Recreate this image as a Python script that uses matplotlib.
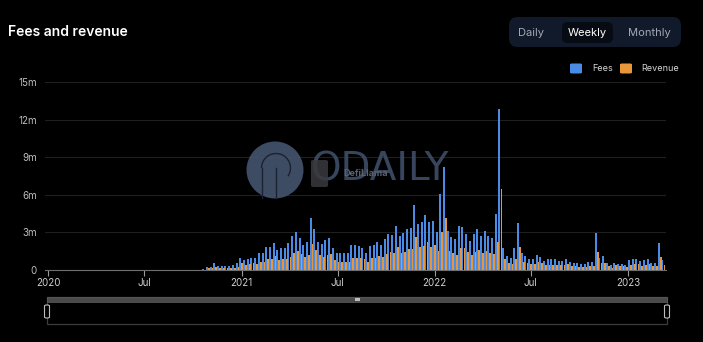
import numpy as np
import pandas as pd
import matplotlib
matplotlib.use("Agg")
import matplotlib.pyplot as plt
import matplotlib.dates as mdates
from matplotlib.patches import FancyBboxPatch, Ellipse, Rectangle, Arc
from matplotlib.lines import Line2D

plt.rcParams['font.family'] = ['Inter', 'DejaVu Sans']

# ---------------- data (millions USD, weekly) ----------------
start_date = "2020-10-22"
fees = [0.05,
        0.27, 0.27, 0.53, 0.35, 0.32, 0.32, 0.32, 0.38, 0.53, 0.93,
        0.80, 0.88, 0.93, 0.93, 1.33, 1.33, 1.80, 1.80, 2.13, 1.60,
        1.73, 1.73, 2.13, 2.75, 3.04, 2.53, 2.00, 2.27, 4.13, 3.25,
        2.27, 2.05, 2.40, 2.53, 1.73, 1.33, 1.33, 1.33, 1.33, 2.00,
        2.00, 1.92, 1.73, 1.33, 1.92, 2.00, 2.27, 2.00, 2.45, 2.88,
        2.80, 3.55, 2.72, 2.93, 3.25, 3.33, 5.20, 3.65, 3.80, 4.40,
        3.80, 3.95, 3.00,
        6.10, 8.27, 3.12, 2.67, 2.45, 3.55, 3.44, 2.85, 2.35, 2.90,
        3.25, 2.75, 3.12, 2.72, 2.53, 4.48, 12.88, 1.73, 1.15, 0.93,
        1.73, 3.73, 1.33, 1.12, 0.90, 0.90, 1.20, 1.07, 0.72, 0.85,
        0.85, 0.85, 0.75, 0.75, 0.90, 0.64, 0.59, 0.53, 0.45, 0.50,
        0.61, 0.61, 2.93, 0.99, 1.09, 0.53, 0.37, 0.59, 0.45, 0.45,
        0.40, 0.77, 0.88, 0.88, 0.69, 0.80, 0.90, 0.53, 0.53, 2.13,
        0.80]
revenue = [0.02,
           0.13, 0.13, 0.27, 0.18, 0.15, 0.15, 0.15, 0.18, 0.27, 0.53,
           0.40, 0.48, 0.53, 0.48, 0.67, 0.67, 0.90, 0.90, 1.10, 0.80,
           0.85, 0.85, 1.07, 1.33, 1.55, 1.28, 1.00, 1.17, 2.08, 1.60,
           1.17, 1.07, 1.23, 1.25, 0.80, 0.61, 0.61, 0.61, 0.61, 0.96,
           0.96, 0.96, 0.85, 0.67, 0.96, 0.96, 1.12, 1.00, 1.25, 1.47,
           1.33, 1.87, 1.39, 1.47, 1.65, 1.70, 2.67, 1.81, 1.92, 2.24,
           1.87, 2.00, 1.55,
           3.07, 4.19, 1.55, 1.33, 1.20, 1.79, 1.73, 1.44, 1.20, 1.47,
           1.60, 1.39, 1.55, 1.39, 1.28, 2.24, 6.45, 0.88, 0.59, 0.48,
           0.88, 1.87, 0.67, 0.59, 0.48, 0.48, 0.61, 0.53, 0.37, 0.40,
           0.40, 0.40, 0.37, 0.37, 0.45, 0.32, 0.30, 0.27, 0.22, 0.25,
           0.30, 0.30, 1.47, 0.53, 0.59, 0.32, 0.19, 0.37, 0.32, 0.30,
           0.25, 0.40, 0.45, 0.45, 0.35, 0.40, 0.45, 0.30, 0.30, 1.07,
           0.40]
ytick_values = [0, 3, 6, 9, 12, 15]
ytick_labels = ["0", "3m", "6m", "9m", "12m", "15m"]
xtick_dates = ["2020-01-01", "2020-07-01", "2021-01-01", "2021-07-01",
               "2022-01-01", "2022-07-01", "2023-01-01"]
xtick_labels = ["2020", "Jul", "2021", "Jul", "2022", "Jul", "2023"]
period_buttons = ["Daily", "Weekly", "Monthly"]
legend_labels = ["Fees", "Revenue"]

FEES_C = "#4a8be6"
REV_C = "#e8963a"
BG = "#000000"

W, H = 703, 342
fig = plt.figure(figsize=(W / 100, H / 100), dpi=100, facecolor=BG)

def fx(x):
    return x / W

def fy(y):
    return 1 - y / H

# ---------------- main axes ----------------
ax_left, ax_right, ax_top, ax_bot = 45, 666, 82.3, 270
ax = fig.add_axes([fx(ax_left), fy(ax_bot), (ax_right - ax_left) / W, (ax_bot - ax_top) / H])
ax.set_facecolor(BG)

dates = pd.date_range(start_date, periods=len(fees), freq="7D")
dnum = mdates.date2num(dates)
ax.bar(dnum - 1.8, fees, width=3.8, color=FEES_C, linewidth=0, zorder=3,
       antialiased=False)
ax.bar(dnum + 1.9, revenue, width=3.2, color=REV_C, linewidth=0, zorder=4,
       antialiased=False)

ax.set_xlim(mdates.date2num(pd.Timestamp("2019-12-26")), mdates.date2num(pd.Timestamp("2023-03-14")))
ax.set_ylim(0, 15)
ax.set_yticks(ytick_values)
ax.set_yticklabels(ytick_labels)
ax.set_xticks(mdates.date2num(pd.to_datetime(xtick_dates)))
ax.set_xticklabels(xtick_labels)
ax.grid(axis="y", color="#1f1f1f", linewidth=0.8, zorder=0)
ax.tick_params(axis="y", length=0, colors="#bdbdbd", labelsize=7, pad=6)
ax.tick_params(axis="x", length=4, width=0.8, color="#9a9a9a", colors="#d0d0d0",
               labelsize=7, pad=2)
for s in ["top", "right", "left"]:
    ax.spines[s].set_visible(False)
ax.spines["bottom"].set_color("#6e6e6e")
ax.spines["bottom"].set_linewidth(0.8)

# ---------------- title ----------------
fig.text(fx(8), fy(32), "Fees and revenue", color="white", fontsize=10,
         fontweight="semibold", va="center", ha="left")

# ---------------- period buttons ----------------
grp = FancyBboxPatch((fx(509), fy(47)), fx(681 - 509), (47 - 17) / H,
                     boxstyle="round,pad=0,rounding_size=0.012",
                     transform=fig.transFigure, facecolor="#111a2b", edgecolor="none",
                     mutation_aspect=W / H)
fig.patches.append(grp)
sel = FancyBboxPatch((fx(562), fy(43)), fx(613 - 562), (43 - 22) / H,
                     boxstyle="round,pad=0,rounding_size=0.008",
                     transform=fig.transFigure, facecolor="#070b13", edgecolor="none",
                     mutation_aspect=W / H)
fig.patches.append(sel)
for lbl, cx in zip(period_buttons, [531, 587, 649]):
    fig.text(fx(cx), fy(32.5), lbl, color="white" if lbl == "Weekly" else "#a3a9b3",
             fontsize=8, ha="center", va="center")

# ---------------- legend ----------------
for lbl, col, sx, tx in zip(legend_labels, [FEES_C, REV_C], [570, 620], [592, 641]):
    sw = FancyBboxPatch((fx(sx), fy(73.5)), fx(12), 10 / H,
                        boxstyle="round,pad=0,rounding_size=0.003",
                        transform=fig.transFigure, facecolor=col, edgecolor="none")
    fig.patches.append(sw)
    fig.text(fx(tx), fy(68.5), lbl, color="#d6d6d6", fontsize=6.5, ha="left", va="center")

# ---------------- watermark ----------------
circ = Ellipse((fx(275), fy(170)), fx(57), 57 / H, transform=fig.transFigure,
               facecolor="#45556f", edgecolor="none", alpha=0.9, zorder=10)
fig.patches.append(circ)
pc = "#1a2131"
fig.lines.append(Line2D([fx(261.5), fx(261.5)], [fy(168), fy(197.5)], transform=fig.transFigure,
                        color=pc, linewidth=1.0, zorder=11))
fig.lines.append(Line2D([fx(276), fx(276)], [fy(168), fy(197.5)], transform=fig.transFigure,
                        color=pc, linewidth=1.0, zorder=11))
arc = Arc((fx(276), fy(168)), fx(29), 29 / H, theta1=-55, theta2=180,
          transform=fig.transFigure, color=pc, linewidth=1.0, zorder=11)
fig.patches.append(arc)
fig.text(fx(311), fy(170), "ODAILY", color="#3e4d68", alpha=0.9, fontsize=28,
         family="DejaVu Sans", ha="left", va="center", zorder=12)
icon = FancyBboxPatch((fx(311), fy(187)), fx(17), 27 / H,
                      boxstyle="round,pad=0,rounding_size=0.004",
                      transform=fig.transFigure, facecolor="#3a3a3f", edgecolor="none",
                      alpha=0.85, zorder=13)
fig.patches.append(icon)
fig.text(fx(343), fy(173), "DefiLlama", color="#5a6272", fontsize=6.5,
         fontweight="bold", ha="left", va="center", zorder=14)

# ---------------- slider ----------------
box = Rectangle((fx(47), fy(323.5)), fx(667 - 47), (323.5 - 297) / H, transform=fig.transFigure,
                facecolor="none", edgecolor="#3c3c3c", linewidth=0.9)
fig.patches.append(box)
bar = Rectangle((fx(47), fy(302)), fx(667 - 47), 5.3 / H, transform=fig.transFigure,
                facecolor="#4a4a4a", edgecolor="#5e5e5e", linewidth=0.5)
fig.patches.append(bar)
knob = Rectangle((fx(355), fy(301.2)), fx(5), 3.6 / H, transform=fig.transFigure,
                 facecolor="#bdbdbd", edgecolor="none")
fig.patches.append(knob)
for hx in [47, 667]:
    h = FancyBboxPatch((fx(hx - 2.5), fy(318)), fx(5), 13 / H,
                       boxstyle="round,pad=0,rounding_size=0.003",
                       transform=fig.transFigure, facecolor=BG, edgecolor="#bdbdbd",
                       linewidth=0.8)
    fig.patches.append(h)

fig.savefig("out.png", dpi=100, facecolor=BG)
